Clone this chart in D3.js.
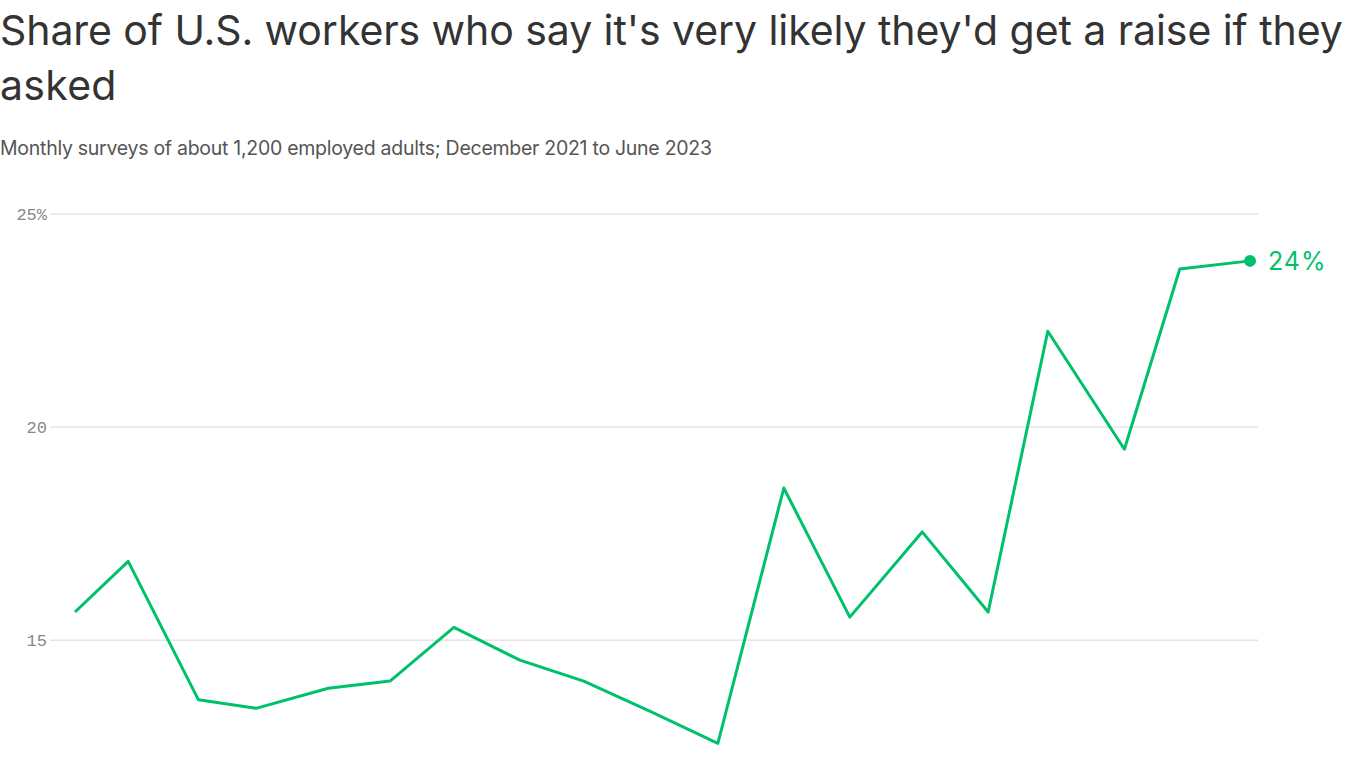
<!DOCTYPE html>
<html><head><meta charset="utf-8">
<script src="https://cdn.jsdelivr.net/npm/d3@7"></script>
<style>body{margin:0;background:#fff;overflow:hidden}</style>
</head><body>
<svg id="chart" width="1366" height="768"></svg>
<script>
// Survey dates and share saying very likely (%)
const dates = ["2021-12-10","2022-01-04","2022-02-06","2022-03-05","2022-04-08","2022-05-07","2022-06-06","2022-07-07","2022-08-06","2022-09-07","2022-10-08","2022-11-08","2022-12-09","2023-01-12","2023-02-12","2023-03-12","2023-04-17","2023-05-13","2023-06-15"];
const shares = [15.66,16.85,13.6,13.4,13.87,14.04,15.3,14.53,14.04,13.31,12.58,18.57,15.54,17.54,15.66,22.25,19.48,23.71,23.9];
const yTicks = [15, 20, 25];

const svg = d3.select("#chart");
const parse = d3.timeParse("%Y-%m-%d");
const data = dates.map((d, i) => ({ date: parse(d), value: shares[i] }));

const x = d3.scaleTime().domain(d3.extent(data, d => d.date)).range([75, 1250]);
const y = d3.scaleLinear().domain([12, 25]).range([768, 214]);

// Titles
svg.append("text").attr("x", 0).attr("y", 45)
  .style("font", "41px 'Inter', sans-serif").attr("fill", "#333").style("letter-spacing", "0.3px")
  .attr("textLength", 1343).attr("lengthAdjust", "spacing")
  .text("Share of U.S. workers who say it's very likely they'd get a raise if they");
svg.append("text").attr("x", 0).attr("y", 100)
  .style("font", "41px 'Inter', sans-serif").attr("fill", "#333").style("letter-spacing", "0.3px")
  .text("asked");
svg.append("text").attr("x", 0).attr("y", 155)
  .style("font", "19.5px 'Inter', sans-serif").attr("fill", "#555")
  .attr("textLength", 712).attr("lengthAdjust", "spacing")
  .text("Monthly surveys of about 1,200 employed adults; December 2021 to June 2023");

// Grid + y labels
const grid = svg.append("g");
grid.selectAll("line").data(yTicks).join("line")
  .attr("x1", 50).attr("x2", 1258)
  .attr("y1", d => y(d)).attr("y2", d => y(d))
  .attr("stroke", "#d9d9d9");
grid.selectAll("text").data(yTicks).join("text")
  .attr("x", 47).attr("y", d => y(d) + 6)
  .attr("text-anchor", "end")
  .style("font", "17px 'Liberation Mono', monospace").attr("fill", "#888")
  .text(d => d === 25 ? "25%" : d);

// Line
const line = d3.line().x(d => x(d.date)).y(d => y(d.value));
svg.append("path").datum(data)
  .attr("fill", "none").attr("stroke", "#00c16b").attr("stroke-width", 3)
  .attr("stroke-linejoin", "round").attr("d", line);

const last = data[data.length - 1];
svg.append("circle").attr("cx", x(last.date)).attr("cy", y(last.value)).attr("r", 6).attr("fill", "#00c16b");
svg.append("text").attr("x", x(last.date) + 18).attr("y", y(last.value) + 9)
  .style("font", "25px 'Inter', sans-serif").attr("fill", "#00c16b").style("letter-spacing", "1px")
  .text(Math.round(last.value) + "%");
</script>
</body></html>
